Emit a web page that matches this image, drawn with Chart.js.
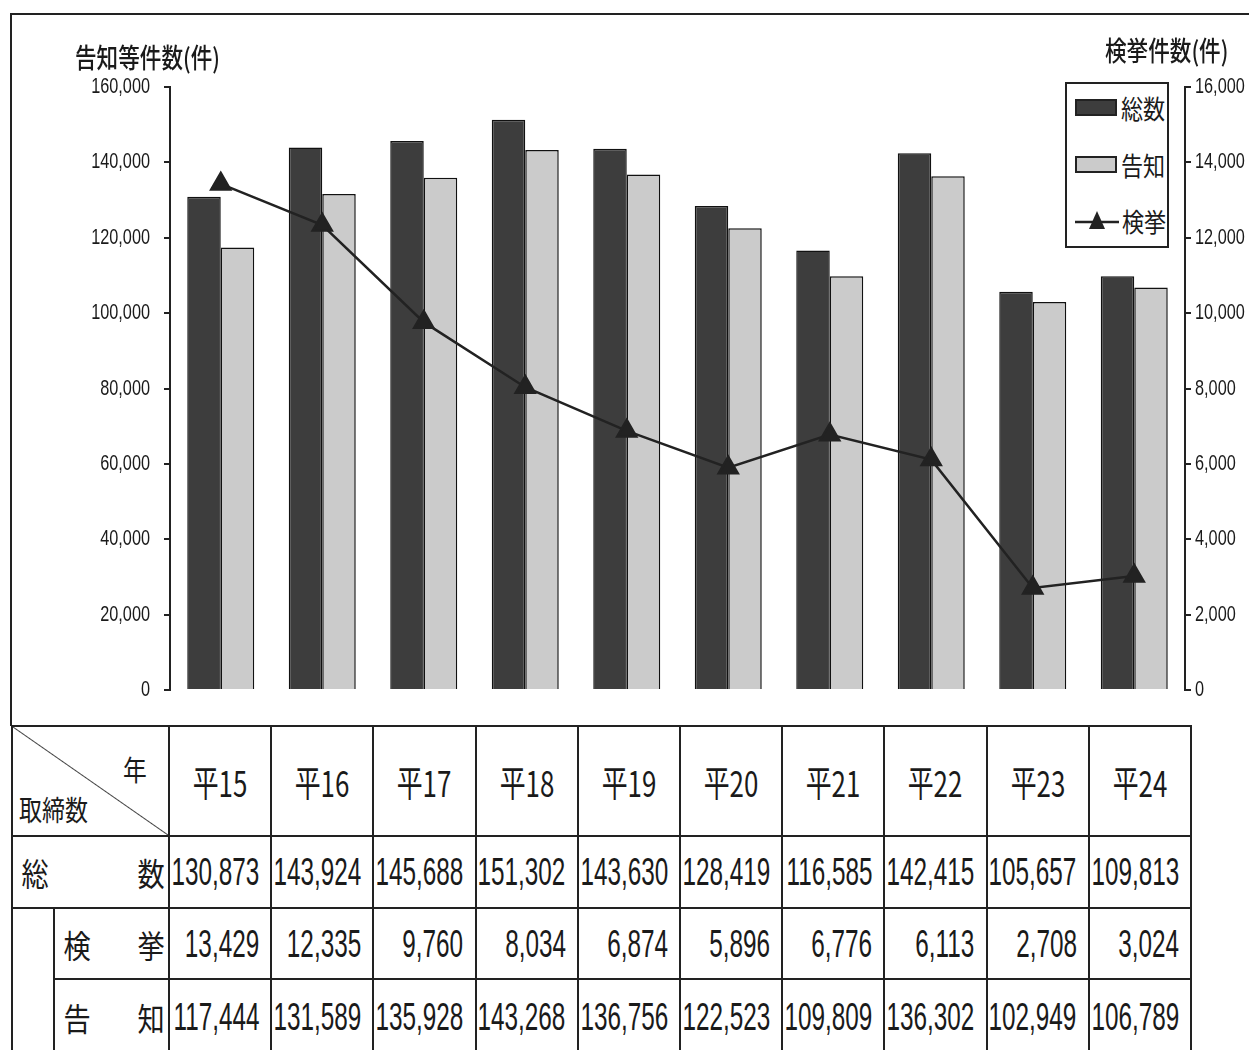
<!DOCTYPE html>
<html>
<head>
<meta charset="utf-8">
<script src="https://cdn.jsdelivr.net/npm/chart.js@4.4.1/dist/chart.umd.min.js"></script>
<style>
  html,body{margin:0;padding:0;background:#fff;}
  body{width:1249px;height:1050px;position:relative;overflow:hidden;
       font-family:"Liberation Sans",sans-serif;color:#1a1a1a;}
  #frameL{position:absolute;left:10px;top:14px;width:2px;height:712px;background:#222;}
  #frameT{position:absolute;left:10px;top:13px;width:1240px;height:2px;background:#222;}
  #wrap{position:absolute;left:0;top:0;width:1249px;height:720px;}
  .ttl{position:absolute;font-family:"Noto Sans CJK JP",sans-serif;font-size:27px;font-weight:500;
       transform:scaleX(0.8);transform-origin:left top;white-space:nowrap;}
  #legend{position:absolute;left:1065px;top:82px;width:100px;height:162px;border:2px solid #222;background:#fff;}
  .li{position:absolute;left:8px;width:95px;height:30px;display:flex;align-items:center;white-space:nowrap;
      font-family:"Noto Sans CJK JP",sans-serif;font-size:26px;}
  .li span{display:inline-block;transform:scaleX(0.85);transform-origin:left center;}
  .sw{width:42px;height:17px;border:2px solid #222;margin-right:4px;box-sizing:border-box;flex:none;}
  table{position:absolute;left:11px;top:725px;width:1179px;border-collapse:collapse;table-layout:fixed;}
  td{border:2px solid #222;padding:0;overflow:hidden;white-space:nowrap;position:relative;}
  .num{font-size:38px;}
  .num span{position:absolute;right:11px;top:50%;transform:translateY(-50%) scaleX(0.64);transform-origin:right center;}
  .hd{text-align:center;font-size:36px;font-family:"Noto Sans CJK JP",sans-serif;}
  .hd span{display:inline-block;transform:scaleX(0.72);}
  .jp{font-family:"Noto Sans CJK JP",sans-serif;font-size:32px;}
  .lab{display:flex;justify-content:space-between;padding:0 1px 0 6px;}
  .lab span{display:inline-block;transform:scaleX(0.85);}
</style>
</head>
<body>
<div id="frameL"></div><div id="frameT"></div>
<div id="wrap"><canvas id="c"></canvas></div>
<div class="ttl" style="left:75px;top:37px;">告知等件数(件)</div>
<div class="ttl" style="left:1105px;top:30px;">検挙件数(件)</div>
<div id="legend"></div>
<table id="tbl"></table>
<script>
const years = ["平15","平16","平17","平18","平19","平20","平21","平22","平23","平24"];
const total = [130873,143924,145688,151302,143630,128419,116585,142415,105657,109813];
const kenkyo = [13429,12335,9760,8034,6874,5896,6776,6113,2708,3024];
const kokuchi = [117444,131589,135928,143268,136756,122523,109809,136302,102949,106789];
const seriesNames = ["総数","告知","検挙"];
const darkCol = "#3d3d3d", lightCol = "#cbcbcb";

const fmt = v => v.toLocaleString("en-US");

// legend
const lg = document.getElementById("legend");
lg.innerHTML =
  '<div class="li" style="top:8px"><div class="sw" style="background:'+darkCol+'"></div><span>'+seriesNames[0]+'</span></div>'+
  '<div class="li" style="top:65px"><div class="sw" style="background:'+lightCol+'"></div><span>'+seriesNames[1]+'</span></div>'+
  '<div class="li" style="top:121px"><svg width="47" height="22" style="flex:none"><line x1="0" y1="13" x2="44" y2="13" stroke="#222" stroke-width="2.5"/><polygon points="22,2 14,20 30,20" fill="#222"/></svg><span>'+seriesNames[2]+'</span></div>';

// table
const tb = document.getElementById("tbl");
let h = '<colgroup><col style="width:42px"><col style="width:115px">';
years.forEach(()=>{ h += '<col style="width:102.2px">'; });
h += '</colgroup>';
h += '<tr style="height:110px"><td colspan="2" style="background:linear-gradient(to top right,transparent calc(50% - 1px),#444 50%,transparent calc(50% + 1px));">'+
     '<span class="jp" style="position:absolute;left:6px;top:62px;font-size:28px;transform:scaleX(0.82);transform-origin:left top">取締数</span>'+
     '<span class="jp" style="position:absolute;left:110px;top:22px;font-size:28px;transform:scaleX(0.85);transform-origin:left top">年</span></td>';
years.forEach(y=>{ h += '<td class="hd"><span>'+y+'</span></td>'; });
h += '</tr>';
h += '<tr style="height:72px"><td colspan="2"><div class="lab jp"><span>総</span><span>数</span></div></td>';
total.forEach(v=>{ h += '<td class="num"><span>'+fmt(v)+'</span></td>'; });
h += '</tr>';
h += '<tr style="height:71px"><td rowspan="2" style="border-bottom:none"></td><td><div class="lab jp"><span>検</span><span>挙</span></div></td>';
kenkyo.forEach(v=>{ h += '<td class="num"><span>'+fmt(v)+'</span></td>'; });
h += '</tr>';
h += '<tr style="height:75px"><td><div class="lab jp"><span>告</span><span>知</span></div></td>';
kokuchi.forEach(v=>{ h += '<td class="num"><span>'+fmt(v)+'</span></td>'; });
h += '</tr>';
tb.innerHTML = h;

// narrow tick labels drawn at the scales' own tick positions
const narrowTicks = {
  id:'narrowTicks',
  afterDraw(chart){
    const ctx = chart.ctx;
    ctx.save();
    ctx.fillStyle = '#1a1a1a';
    ctx.font = '22px "Liberation Sans", sans-serif';
    ctx.textBaseline = 'middle';
    ['y','y1'].forEach(id=>{
      const s = chart.scales[id];
      s.ticks.forEach(t=>{
        const py = s.getPixelForValue(t.value);
        ctx.save();
        if(id==='y'){ ctx.translate(s.right-20, py); ctx.textAlign='right'; }
        else { ctx.translate(s.left+10, py); ctx.textAlign='left'; }
        ctx.scale(0.74,1);
        ctx.fillText(fmt(t.value),0,0);
        ctx.restore();
      });
    });
    ctx.restore();
  }
};

new Chart(document.getElementById("c"),{
  type:'bar',
  data:{
    labels:years,
    datasets:[
      {type:'line',label:seriesNames[2],data:kenkyo,yAxisID:'y1',borderColor:'#222',borderWidth:2.5,
       pointStyle:'triangle',pointRadius:11,pointBackgroundColor:'#222',pointBorderColor:'#222',tension:0,order:0},
      {label:seriesNames[0],data:total,yAxisID:'y',backgroundColor:darkCol,borderColor:'#111',borderWidth:1.5,
       categoryPercentage:0.66,barPercentage:1.0,order:1},
      {label:seriesNames[1],data:kokuchi,yAxisID:'y',backgroundColor:lightCol,borderColor:'#111',borderWidth:1.5,
       categoryPercentage:0.66,barPercentage:1.0,order:1}
    ]
  },
  options:{
    responsive:true,maintainAspectRatio:false,animation:false,
    layout:{padding:{top:87,bottom:30,left:0,right:0}},
    plugins:{legend:{display:false},tooltip:{enabled:false}},
    scales:{
      x:{display:false},
      y:{position:'left',min:0,max:160000,
         ticks:{stepSize:20000,color:'rgba(0,0,0,0)',font:{size:12}},
         grid:{drawOnChartArea:false,color:'#222',tickLength:6,lineWidth:2},
         border:{color:'#222',width:2},
         afterFit:s=>{s.width=170;}},
      y1:{position:'right',min:0,max:16000,
         ticks:{stepSize:2000,color:'rgba(0,0,0,0)',font:{size:12}},
         grid:{drawOnChartArea:false,color:'#222',tickLength:6,lineWidth:2},
         border:{color:'#222',width:2},
         afterFit:s=>{s.width=64;}}
    }
  },
  plugins:[narrowTicks]
});
</script>
</body>
</html>
